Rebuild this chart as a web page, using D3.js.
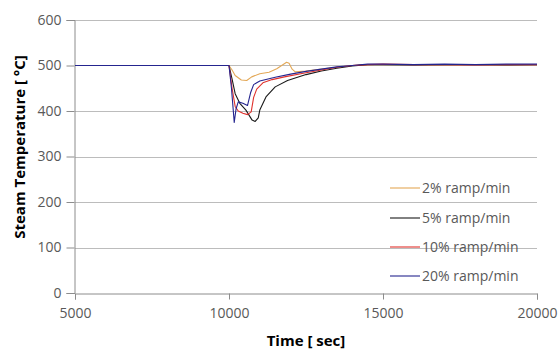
<!DOCTYPE html>
<html>
<head>
<meta charset="utf-8">
<script src="https://cdn.jsdelivr.net/npm/d3@7"></script>
<style>
  html, body { margin: 0; padding: 0; background: #fff; }
  svg { display: block; }
  text { font-family: "Open Sans", sans-serif; }
</style>
</head>
<body>
<svg id="chart" width="559" height="350"></svg>
<script>
// ---- data ----
const seriesNames = ["2% ramp/min", "5% ramp/min", "10% ramp/min", "20% ramp/min"];
const seriesColors = ["#e3a857", "#1a1a1a", "#e0322d", "#25258f"];

const time2 = [5000, 10000, 10100, 10200, 10400, 10575, 10737, 11000, 11300, 11550, 11870, 11950, 12050, 12150, 12500, 13000, 13500, 14000, 14500, 15000, 16000, 17000, 18000, 19000, 20000];
const temp2 = [500, 500, 490, 478, 468, 467, 475, 482, 485, 493, 507, 505, 492, 486, 488, 492, 496, 500, 502, 502, 502, 501, 502, 502, 502];

const time5 = [5000, 10000, 10100, 10200, 10350, 10550, 10750, 10850, 10950, 11000, 11200, 11500, 11900, 12500, 13000, 13500, 14000, 14500, 15000, 16000, 17000, 18000, 19000, 20000];
const temp5 = [500, 500, 470, 438, 417, 402, 380, 377, 385, 402, 431, 453, 467, 480, 488, 494, 499, 502, 502, 501, 502, 502, 501, 502];

const time10 = [5000, 10000, 10100, 10200, 10300, 10450, 10600, 10720, 10800, 10900, 11100, 11400, 11800, 12500, 13000, 13500, 14000, 14500, 15000, 16000, 17000, 18000, 19000, 20000];
const temp10 = [500, 500, 450, 410, 400, 395, 392, 398, 430, 448, 462, 469, 475, 484, 490, 496, 500, 502, 503, 502, 502, 501, 502, 502];

const time20 = [5000, 10000, 10080, 10170, 10230, 10300, 10450, 10600, 10700, 10800, 11000, 11500, 12000, 12500, 13000, 13500, 14000, 14500, 15000, 16000, 17000, 18000, 19000, 20000];
const temp20 = [500, 500, 450, 375, 405, 420, 417, 412, 440, 458, 466, 474, 481, 487, 492, 497, 500, 503, 503, 502, 503, 502, 503, 503];

const xTicks = [5000, 10000, 15000, 20000];
const yTicks = [0, 100, 200, 300, 400, 500, 600];
const xTitle = "Time [ sec]";
const yTitle = "Steam Temperature [ °C]";

const allTimes = [time2, time5, time10, time20];
const allTemps = [temp2, temp5, temp10, temp20];

// ---- layout ----
const W = 559, H = 350;
const m = { left: 75, right: 22, top: 20, bottom: 57 };
const svg = d3.select("#chart");

const x = d3.scaleLinear().domain([5000, 20000]).range([m.left, W - m.right]);
const y = d3.scaleLinear().domain([0, 600]).range([H - m.bottom, m.top]);

// gridlines
svg.append("g")
  .selectAll("line").data(yTicks.filter(d => d > 0)).join("line")
  .attr("x1", m.left).attr("x2", W - m.right)
  .attr("y1", d => Math.round(y(d)) + 0.5).attr("y2", d => Math.round(y(d)) + 0.5)
  .attr("stroke", "#bcbcbc").attr("stroke-width", 1);

// axes
const yAxis = svg.append("g")
  .attr("transform", `translate(${m.left - 0.5},0)`)
  .call(d3.axisLeft(y).tickValues(yTicks).tickSize(8).tickPadding(5).tickFormat(d3.format("d")));
const xAxis = svg.append("g")
  .attr("transform", `translate(0,${Math.round(H - m.bottom) + 0.5})`)
  .call(d3.axisBottom(x).tickValues(xTicks).tickSize(6).tickPadding(9).tickFormat(d3.format("d")));

[yAxis, xAxis].forEach(a => {
  a.select(".domain").attr("stroke", "#8c8c8c");
  a.selectAll(".tick line").attr("stroke", "#8c8c8c");
  a.selectAll(".tick text").attr("fill", "#595959").style("font-size", "14px").style("font-family", "'Open Sans', sans-serif");
});

// lines
const line = d3.line().x(d => x(d[0])).y(d => y(d[1]));
allTimes.forEach((ts, i) => {
  const pts = ts.map((t, j) => [t, allTemps[i][j]]);
  svg.append("path").datum(pts)
    .attr("fill", "none")
    .attr("stroke", seriesColors[i])
    .attr("stroke-width", 1.1)
    .attr("stroke-linejoin", "round")
    .attr("d", line);
});

// legend
const legY = [188, 218, 247, 276];
const lg = svg.append("g");
seriesNames.forEach((n, i) => {
  lg.append("line").attr("x1", 390).attr("x2", 420)
    .attr("y1", legY[i]).attr("y2", legY[i])
    .attr("stroke", seriesColors[i]).attr("stroke-width", 1.1);
  lg.append("text").attr("x", 422).attr("y", legY[i]).attr("dy", "0.35em")
    .attr("fill", "#595959").style("font-size", "14px").text(n);
});

// axis titles
svg.append("text")
  .attr("x", (m.left + W - m.right) / 2).attr("y", 341).attr("dy", "0.35em")
  .attr("text-anchor", "middle").attr("fill", "#000")
  .style("font-size", "15px").style("font-weight", "bold").text(xTitle);
svg.append("text")
  .attr("transform", `translate(20,147) rotate(-90)`)
  .attr("dy", "0.35em")
  .attr("text-anchor", "middle").attr("fill", "#000")
  .style("font-size", "15px").style("font-weight", "bold").text(yTitle);
</script>
</body>
</html>
